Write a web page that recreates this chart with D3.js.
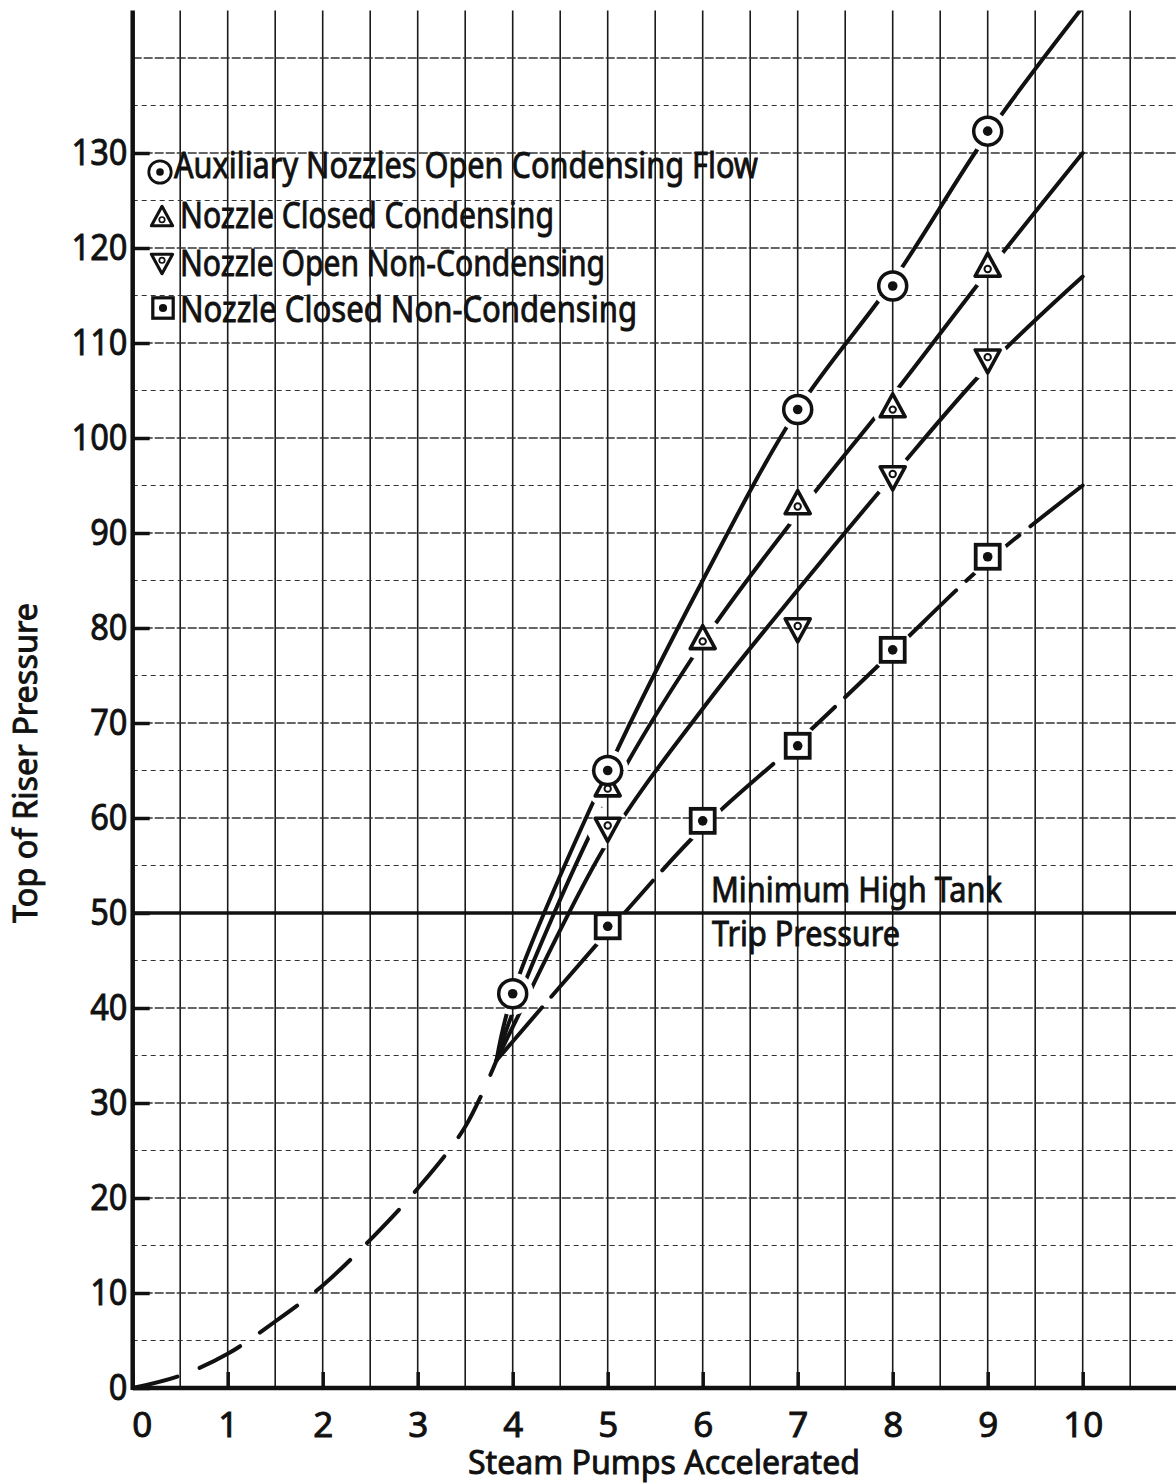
<!DOCTYPE html>
<html>
<head>
<meta charset="utf-8">
<script src="https://cdn.jsdelivr.net/npm/d3@7"></script>
<style>
  html, body { margin: 0; padding: 0; background: #fff; }
  svg { display: block; }
  text { font-family: "Noto Sans", sans-serif; fill: #111; stroke: #111; stroke-width: 0.9px; }
</style>
</head>
<body>
<svg id="chart" width="1176" height="1483"></svg>
<script>
// tick values
const xTicks = [0, 1, 2, 3, 4, 5, 6, 7, 8, 9, 10];
const yTicks = [0, 10, 20, 30, 40, 50, 60, 70, 80, 90, 100, 110, 120, 130];
const tripPressure = 50;

// common dashed start curve
const baseCurveX = [0, 0.5, 1, 1.5, 2, 2.5, 3, 3.5, 3.83];
const baseCurveY = [0, 1.3, 3.6, 7, 10.8, 15.6, 21, 27.5, 34.5];

// faired curves
const auxLineX = [3.83, 4, 5, 6, 7, 8, 9, 10.05];
const auxLineY = [34.5, 41.5, 65, 85, 103, 116.5, 132, 146];
const closedCondLineX = [3.83, 4, 5, 6, 7, 8, 9, 10];
const closedCondLineY = [34.5, 39.5, 62, 78.5, 92, 104.5, 117.5, 130];
const openNonCondLineX = [3.83, 4, 5, 6, 7, 8, 9, 10];
const openNonCondLineY = [34.5, 38, 57.5, 71.5, 84, 96, 107.5, 117];
const closedNonCondLineX = [3.83, 5, 6, 7, 8, 9, 10];
const closedNonCondLineY = [34.5, 48, 59, 68, 77.5, 87, 95];

// measured points
const auxX = [4, 5, 7, 8, 9];
const auxY = [41.5, 65, 103, 116, 132.3];
const closedCondX = [5, 6, 7, 8, 9];
const closedCondY = [63.3, 78.8, 93, 103.2, 118];
const openNonCondX = [5, 7, 8, 9];
const openNonCondY = [59, 80, 96, 108.3];
const closedNonCondX = [5, 6, 7, 8, 9];
const closedNonCondY = [48.6, 59.7, 67.6, 77.7, 87.5];

const legendLabels = [
  "Auxiliary Nozzles Open Condensing Flow",
  "Nozzle Closed Condensing",
  "Nozzle Open Non-Condensing",
  "Nozzle Closed Non-Condensing"
];

const svg = d3.select("#chart");
const W = 1176;

const x = d3.scaleLinear().domain([0, 11]).range([132.7, 132.7 + 11 * 95]);
const y = d3.scaleLinear().domain([0, 145]).range([1388, 10.5]);

const zip = (xs, ys) => xs.map((v, i) => [v, ys[i]]);

// grid
const grid = svg.append("g");
grid.selectAll("line.v")
  .data(d3.range(0.5, 11.01, 0.5))
  .join("line")
  .attr("x1", d => x(d)).attr("x2", d => x(d))
  .attr("y1", y(145)).attr("y2", y(0))
  .attr("stroke", "#1a1a1a").attr("stroke-width", 1.6);
grid.selectAll("line.h")
  .data(d3.range(5, 141, 5))
  .join("line")
  .attr("x1", x(0)).attr("x2", W)
  .attr("y1", d => y(d)).attr("y2", d => y(d))
  .attr("stroke", "#333")
  .attr("stroke-width", d => d % 10 === 0 ? 1.6 : 1.2)
  .attr("stroke-dasharray", d => d % 10 === 0 ? "9,2" : "5,4");

// trip pressure line
svg.append("line")
  .attr("x1", x(0)).attr("x2", W)
  .attr("y1", y(tripPressure)).attr("y2", y(tripPressure))
  .attr("stroke", "#111").attr("stroke-width", 3.5);

// axes
const xAxis = svg.append("g")
  .attr("transform", `translate(0,${y(0)})`)
  .call(d3.axisBottom(x).tickValues(xTicks).tickSize(-16).tickPadding(24).tickFormat(d3.format("d")));
xAxis.select(".domain").remove();
xAxis.selectAll(".tick line").attr("stroke", "#111").attr("stroke-width", 3.5);
xAxis.selectAll(".tick text").attr("font-size", 35).attr("font-family", "Noto Sans").attr("fill", "#111")
  .attr("x", d => d === 0 ? 9 : 0);

const yAxis = svg.append("g")
  .attr("transform", `translate(${x(0)},0)`)
  .call(d3.axisLeft(y).tickValues(yTicks).tickSize(-17).tickPadding(6).tickFormat(d3.format("d")));
yAxis.select(".domain").remove();
yAxis.selectAll(".tick line").attr("stroke", "#111").attr("stroke-width", 3.5);
yAxis.selectAll(".tick text").attr("font-size", 37).attr("font-family", "Noto Sans").attr("fill", "#111")
  .attr("transform", "scale(0.88,1)");

svg.append("line").attr("x1", x(0)).attr("x2", W).attr("y1", y(0)).attr("y2", y(0))
  .attr("stroke", "#111").attr("stroke-width", 4.5);
svg.append("line").attr("x1", x(0)).attr("x2", x(0)).attr("y1", y(145)).attr("y2", y(0) + 2)
  .attr("stroke", "#111").attr("stroke-width", 4.5);

// mask so curves break around the markers
const allPts = [].concat(zip(auxX, auxY), zip(closedCondX, closedCondY),
  zip(openNonCondX, openNonCondY), zip(closedNonCondX, closedNonCondY));
const mask = svg.append("defs").append("mask").attr("id", "gaps").attr("maskUnits", "userSpaceOnUse")
  .attr("x", 0).attr("y", 0).attr("width", W).attr("height", 1483);
mask.append("rect").attr("width", W).attr("height", 1483).attr("fill", "#fff");
mask.selectAll("circle").data(allPts).join("circle")
  .attr("cx", d => x(d[0])).attr("cy", d => y(d[1])).attr("r", 21).attr("fill", "#000");

svg.append("defs").append("clipPath").attr("id", "plot")
  .append("rect").attr("x", x(0)).attr("y", y(145)).attr("width", W - x(0)).attr("height", y(0) - y(145));

const line = d3.line().x(d => x(d[0])).y(d => y(d[1])).curve(d3.curveCatmullRom.alpha(0.5));

const curves = svg.append("g").attr("clip-path", "url(#plot)");
curves.append("path").datum(zip(baseCurveX, baseCurveY))
  .attr("d", line).attr("fill", "none").attr("stroke", "#111").attr("stroke-width", 4)
  .attr("stroke-dasharray", "46,24").attr("stroke-linecap", "round");

const fitted = curves.append("g").attr("mask", "url(#gaps)");
[
  [auxLineX, auxLineY, null],
  [closedCondLineX, closedCondLineY, null],
  [openNonCondLineX, openNonCondLineY, null],
  [closedNonCondLineX, closedNonCondLineY, "70,14"]
].forEach(([xs, ys, dash]) => {
  fitted.append("path").datum(zip(xs, ys))
    .attr("d", line).attr("fill", "none").attr("stroke", "#111").attr("stroke-width", 4)
    .attr("stroke-linecap", "round")
    .attr("stroke-dasharray", dash);
});

// marker drawing
function drawCircle(g, cx, cy, s) {
  g.append("circle").attr("cx", cx).attr("cy", cy).attr("r", 14 * s)
    .attr("fill", "#fff").attr("stroke", "#111").attr("stroke-width", 3.5 * s);
  g.append("circle").attr("cx", cx).attr("cy", cy).attr("r", 4.8 * s).attr("fill", "#111");
}
function drawTri(g, cx, cy, s, up) {
  const h = 23 * s, w = 25 * s, d = up ? 1 : -1;
  const pts = [[cx, cy - d * h * 0.6], [cx - w / 2, cy + d * h * 0.4], [cx + w / 2, cy + d * h * 0.4]];
  g.append("path").attr("d", "M" + pts.join("L") + "Z")
    .attr("fill", "#fff").attr("stroke", "#111").attr("stroke-width", 3.6 * s).attr("stroke-linejoin", "round");
  g.append("circle").attr("cx", cx).attr("cy", cy + d * 2 * s).attr("r", 3.2 * s)
    .attr("fill", "none").attr("stroke", "#111").attr("stroke-width", 2 * s);
}
function drawSquare(g, cx, cy, s) {
  const a = 24 * s;
  g.append("rect").attr("x", cx - a / 2).attr("y", cy - a / 2).attr("width", a).attr("height", a)
    .attr("fill", "#fff").attr("stroke", "#111").attr("stroke-width", 3.8 * s);
  g.append("circle").attr("cx", cx).attr("cy", cy).attr("r", 4.8 * s).attr("fill", "#111");
}

const marks = svg.append("g");
zip(closedNonCondX, closedNonCondY).forEach(p => drawSquare(marks, x(p[0]), y(p[1]), 1));
zip(openNonCondX, openNonCondY).forEach(p => drawTri(marks, x(p[0]), y(p[1]), 1, false));
zip(closedCondX, closedCondY).forEach(p => drawTri(marks, x(p[0]), y(p[1]), 1, true));
zip(auxX, auxY).forEach(p => drawCircle(marks, x(p[0]), y(p[1]), 1));

// legend
const legend = svg.append("g");
const legendRows = [
  { mx: 160, my: 172, ty: 178, w: 584, draw: (g, a, b) => drawCircle(g, a, b, 0.8) },
  { mx: 162, my: 218, ty: 228, w: 374, draw: (g, a, b) => drawTri(g, a, b, 0.85, true) },
  { mx: 162, my: 262, ty: 276, w: 425, draw: (g, a, b) => drawTri(g, a, b, 0.85, false) },
  { mx: 163, my: 308, ty: 322, w: 457, draw: (g, a, b) => drawSquare(g, a, b, 0.85) }
];
legendRows.forEach((r, i) => {
  const bg = legend.append("g");
  r.draw(bg, r.mx, r.my);
  legend.append("text")
    .attr("x", i === 0 ? 174 : 180).attr("y", r.ty)
    .attr("font-size", 36)
    .attr("textLength", r.w).attr("lengthAdjust", "spacingAndGlyphs")
    .text(legendLabels[i]);
});

// annotation
svg.append("text").attr("x", 711).attr("y", 902).attr("font-size", 34)
  .attr("textLength", 291).attr("lengthAdjust", "spacingAndGlyphs").text("Minimum High Tank");
svg.append("text").attr("x", 712).attr("y", 946).attr("font-size", 34)
  .attr("textLength", 188).attr("lengthAdjust", "spacingAndGlyphs").text("Trip Pressure");

// axis titles
svg.append("text").attr("x", 664).attr("y", 1474).attr("text-anchor", "middle")
  .attr("font-size", 33).attr("textLength", 392).attr("lengthAdjust", "spacingAndGlyphs")
  .text("Steam Pumps Accelerated");
svg.append("text").attr("transform", "translate(37,763) rotate(-90)").attr("text-anchor", "middle")
  .attr("font-size", 33).attr("textLength", 320).attr("lengthAdjust", "spacingAndGlyphs")
  .text("Top of Riser Pressure");
</script>
</body>
</html>
